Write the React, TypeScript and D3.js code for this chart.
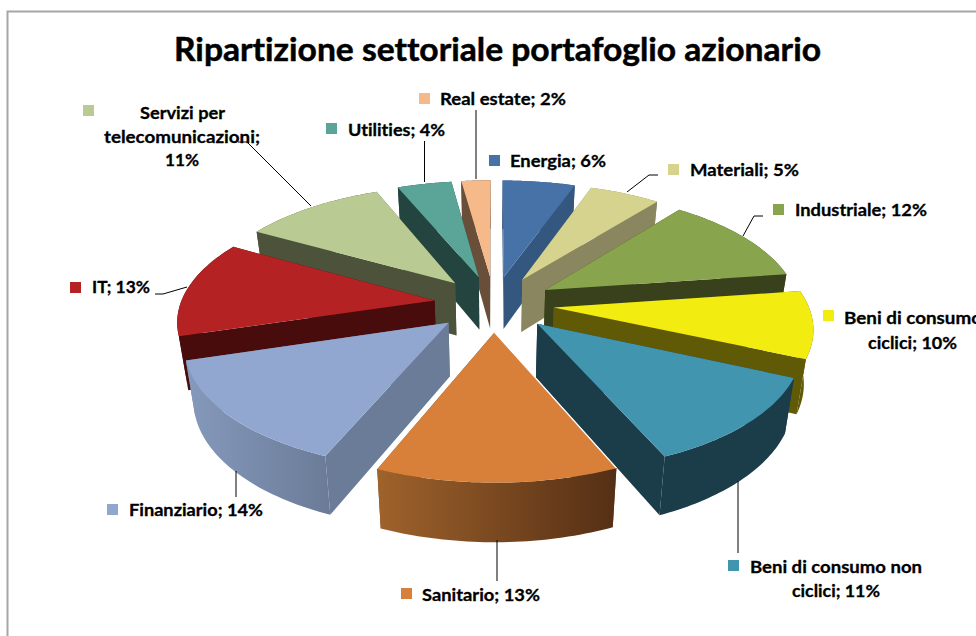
import React from "react";
import * as d3 from "d3";

const sectors = ["Energia","Materiali","Industriale","Beni di consumo ciclici","Beni di consumo non ciclici","Sanitario","Finanziario","IT","Servizi per telecomunicazioni","Utilities","Real estate"];
const shares = [5.47,5.33,12.2,9,11.94,12.86,14.2,13,10.7,4.1,2.2];
const topColors = ["#4672a8","#d6d38f","#88a54d","#f3ec10","#4195ae","#d8803a","#92a7cf","#b42224","#b9cb92","#5aa498","#f6ba8a"];
const wallColors = ["#345780","#8a8760","#38401c","#605a06","#1b3c49","#7a4a20","#6b7c98","#480c0c","#4c533a","#244440","#694e3a"];
const titleText = "Ripartizione settoriale portafoglio azionario";

const labelLayout = [
  { key:[489,155], lines:[["Energia; 6%",510,606,167]] },
  { key:[668,164], lines:[["Materiali; 5%",690,799,176]] },
  { key:[773,204], lines:[["Industriale; 12%",795,927,216]] },
  { key:[823,310], lines:[["Beni di consumo",844,982,324],["ciclici; 10%",868,957,349]] },
  { key:[728,560], lines:[["Beni di consumo non",750,922,573],["ciclici; 11%",792,880,597]] },
  { key:[401,588], lines:[["Sanitario; 13%",422,540,601]] },
  { key:[107,504], lines:[["Finanziario; 14%",129,263,516]] },
  { key:[70,282], lines:[["IT; 13%",92,150,293]] },
  { key:[83,105], lines:[["Servizi per",140,225,119],["telecomunicazioni;",104,260,143],["11%",165,199,166]] },
  { key:[326,123], lines:[["Utilities; 4%",348,445,136]] },
  { key:[419,93], lines:[["Real estate; 2%",440,566,105]] },
] as const;

const leaders: [number,number][][] = [
  [[476,110],[476,179]],
  [[424.5,141],[424.5,182]],
  [[658,175],[649,175],[627,192]],
  [[763,216],[754,216],[743,236]],
  [[238,142],[247,142],[311,206]],
  [[155,294],[163,294],[187,287]],
  [[236,471],[236,497]],
  [[497,540],[497,581]],
  [[738,481],[738,553]],
];

const CX = 494, CY = 303.5, R = 254, EXPLODE = 60, FOCAL = 1700, TILT = 0.465, DEPTH = 53, SHRINK = 0.97;

function project(u: number, v: number, bottom: boolean): [number, number] {
  const s = 1 / (1 - v / FOCAL);
  const k = bottom ? SHRINK : 1;
  return [CX + u * s * k, CY + TILT * v * s * k + (bottom ? DEPTH * s : 0)];
}

const pieGen = d3.pie<number>().sort(null).value((d) => d).startAngle(0).endAngle(2 * Math.PI);
const line = d3.line();

const slices = pieGen(shares).map((a) => {
  const mid = (a.startAngle + a.endAngle) / 2;
  const ou = EXPLODE * Math.sin(mid), ov = -EXPLODE * Math.cos(mid);
  const at = (t: number, r: number): [number, number] => [ou + r * Math.sin(t), ov - r * Math.cos(t)];
  const ts = d3.range(0, 41).map((i) => a.startAngle + ((a.endAngle - a.startAngle) * i) / 40);
  const rim = ts.map((t) => at(t, R));
  const apex = at(0, 0);
  return {
    i: a.index, mid,
    edge: line([project(apex[0], apex[1], false), project(rim[0][0], rim[0][1], false)])!,
    top: line([project(apex[0], apex[1], false), ...rim.map((p) => project(p[0], p[1], false))])! + "Z",
    outer: line([...rim.map((p) => project(p[0], p[1], false)), ...rim.slice().reverse().map((p) => project(p[0], p[1], true))])! + "Z",
    wallA: line([project(apex[0], apex[1], false), project(rim[0][0], rim[0][1], false), project(rim[0][0], rim[0][1], true), project(apex[0], apex[1], true)])! + "Z",
    wallB: line([project(apex[0], apex[1], false), project(rim[40][0], rim[40][1], false), project(rim[40][0], rim[40][1], true), project(apex[0], apex[1], true)])! + "Z",
  };
});
const order = slices.slice().sort((a, b) => Math.cos(b.mid) - Math.cos(a.mid));
const FONT = "Lato, 'Open Sans', sans-serif";
const textStyle = { fontVariantLigatures: "none" } as const;

export default function App() {
  return (
    <svg width={976} height={636} style={{ position: "absolute", left: 0, top: 0, background: "#fff" }}>
      <defs>
        <linearGradient id="g5" gradientUnits="userSpaceOnUse" x1={380} x2={615} y1={0} y2={0}>
          <stop offset="0" stopColor="#9e622b" /><stop offset="1" stopColor="#552f15" />
        </linearGradient>
        <linearGradient id="g6" gradientUnits="userSpaceOnUse" x1={188} x2={328} y1={0} y2={0}>
          <stop offset="0" stopColor="#8599bc" /><stop offset="1" stopColor="#6b7c98" />
        </linearGradient>
      </defs>
      <path d="M7.5 636V11.5H976" fill="none" stroke="#a6a6a6" strokeWidth={2} />
      <text x={174} y={61} style={textStyle} fontFamily={FONT} fontWeight={700} fontSize={33} textLength={647} lengthAdjust="spacingAndGlyphs" fill="#000" stroke="#000" strokeWidth={0.5}>{titleText}</text>
      {order.map((s) => (
        <g key={sectors[s.i]}>
          <path d={s.wallA} fill={wallColors[s.i]} />
          <path d={s.wallB} fill={wallColors[s.i]} />
          <path d={s.outer} fill={s.i === 5 ? "url(#g5)" : s.i === 6 ? "url(#g6)" : wallColors[s.i]} />
          <path d={s.top} fill={topColors[s.i]} />
          {s.i === 5 && <path d={s.edge} fill="none" stroke="#fff" strokeWidth={1.2} />}
        </g>
      ))}
      {leaders.map((p, i) => <path key={i} d={line(p)!} fill="none" stroke="#000" strokeWidth={1} />)}
      {labelLayout.map((l, i) => (
        <g key={i}>
          <rect x={l.key[0]} y={l.key[1]} width={11} height={11} fill={topColors[i]} />
          {l.lines.map((t) => (
            <text key={t[0]} x={t[1]} y={t[3]} style={textStyle} fontFamily={FONT} fontWeight={700} fontSize={17} textLength={t[2] - t[1]} lengthAdjust="spacingAndGlyphs" fill="#000" stroke="#000" strokeWidth={0.3}>{t[0]}</text>
          ))}
        </g>
      ))}
    </svg>
  );
}
